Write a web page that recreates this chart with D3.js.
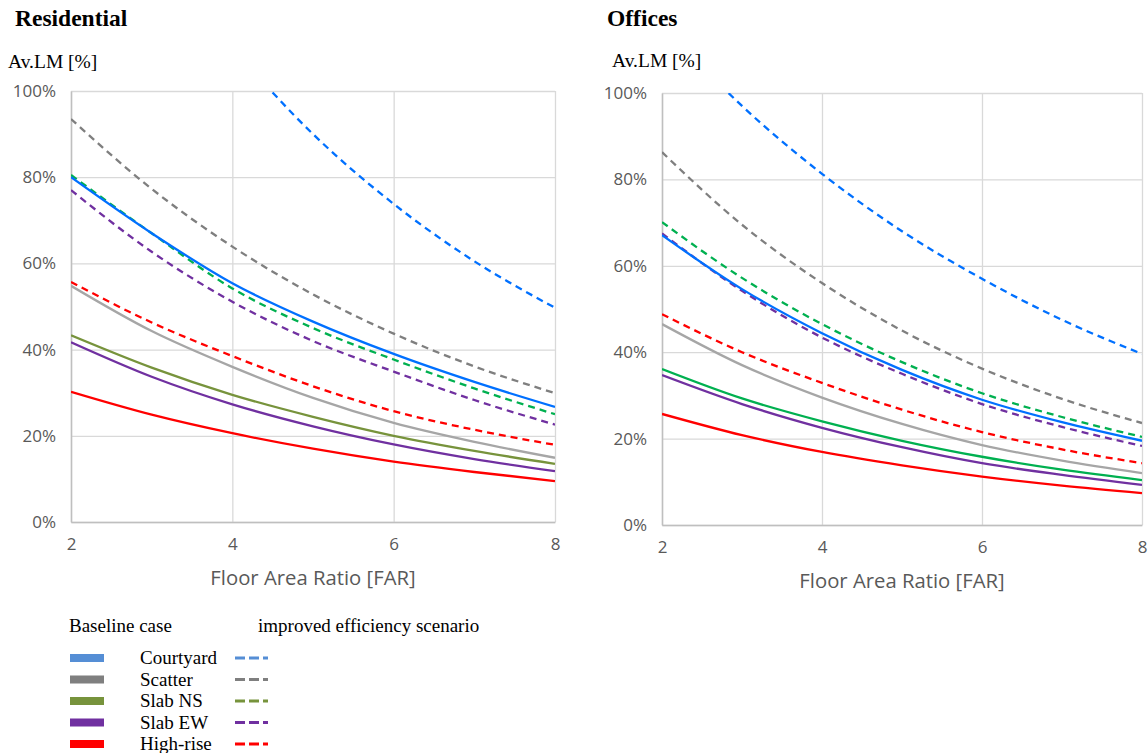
<!DOCTYPE html>
<html>
<head>
<meta charset="utf-8">
<script src="https://cdn.jsdelivr.net/npm/d3@7"></script>
<style>
  body { margin: 0; background: #fff; }
  svg { display: block; }
</style>
</head>
<body>
<svg width="1148" height="753"></svg>
<script>
// FAR sample points
const far = [2, 3, 4, 5, 6, 7, 8];
const yTicks = [0, 20, 40, 60, 80, 100];
const xTicks = [2, 4, 6, 8];

// Residential, Av.LM [%]
const resCourtyard     = [80.0, 67.0, 55.4, 46.5, 39.0, 32.5, 26.7];
const resCourtyardImp  = [null, null, 110, 90.0, 73.8, 60.5, 49.7];
const resScatter       = [54.8, 44.3, 36.0, 28.8, 23.0, 18.6, 14.9];
const resScatterImp    = [93.5, 77.3, 63.9, 52.8, 43.7, 36.1, 29.9];
const resSlabNS        = [43.3, 35.8, 29.5, 24.4, 20.0, 16.5, 13.5];
const resSlabNSImp     = [80.5, 67.0, 54.2, 45.0, 37.7, 31.0, 25.0];
const resSlabEW        = [41.7, 33.7, 27.3, 22.2, 18.0, 14.6, 11.8];
const resSlabEWImp     = [77.0, 62.7, 51.1, 42.0, 34.9, 28.3, 22.6];
const resHighRise      = [30.2, 24.9, 20.6, 17.0, 14.0, 11.6, 9.5];
const resHighRiseImp   = [55.7, 46.3, 38.5, 31.5, 25.7, 21.4, 17.9];

// Offices, Av.LM [%]
const offCourtyard     = [67.1, 54.6, 44.4, 35.9, 29.0, 23.8, 19.5];
const offCourtyardImp  = [116, 97.0, 81.3, 68.0, 57.0, 47.5, 39.6];
const offScatter       = [46.5, 37.0, 29.5, 23.4, 18.5, 14.9, 12.0];
const offScatterImp    = [86.3, 69.5, 56.0, 45.0, 36.2, 29.2, 23.6];
const offSlabNS        = [36.1, 29.3, 24.0, 19.5, 15.8, 12.8, 10.4];
const offSlabNSImp     = [70.1, 57.2, 46.5, 37.7, 30.5, 25.0, 20.4];
const offSlabEW        = [34.7, 28.0, 22.5, 18.0, 14.3, 11.6, 9.3];
const offSlabEWImp     = [67.5, 54.2, 43.4, 35.0, 28.0, 22.7, 18.3];
const offHighRise      = [25.7, 20.8, 16.9, 13.8, 11.2, 9.1, 7.4];
const offHighRiseImp   = [48.8, 40.0, 32.9, 26.7, 21.5, 17.5, 14.3];

// legend
const legendNames  = ["Courtyard", "Scatter", "Slab NS", "Slab EW", "High-rise"];
const legendColors = ["#558ED5", "#7F7F7F", "#77933C", "#7030A0", "#FF0000"];

const svg = d3.select("svg");
const serif = "Liberation Serif, Times New Roman, serif";
const sans = "Open Sans, sans-serif";

function series(vals, color, dashed) {
  return { data: far.map((x, i) => ({ x, y: vals[i] })), color, dashed };
}

const charts = [
  {
    id: "res", title: "Residential", titleX: 15, unitX: 8, unitY: 68,
    left: 71, right: 555, top: 91, bottom: 522,
    series: [
      series(resScatter, "#A6A6A6", false),
      series(resSlabNS, "#77933C", false),
      series(resSlabEW, "#7030A0", false),
      series(resHighRise, "#FF0000", false),
      series(resScatterImp, "#7F7F7F", true),
      series(resSlabEWImp, "#7030A0", true),
      series(resHighRiseImp, "#FF0000", true),
      series(resCourtyardImp, "#0070FF", true),
      series(resSlabNSImp, "#00B050", true),
      series(resCourtyard, "#0070FF", false)
    ]
  },
  {
    id: "off", title: "Offices", titleX: 607, unitX: 612, unitY: 67,
    left: 662, right: 1142, top: 93, bottom: 525,
    series: [
      series(offScatter, "#A6A6A6", false),
      series(offSlabNS, "#00B050", false),
      series(offSlabEW, "#7030A0", false),
      series(offHighRise, "#FF0000", false),
      series(offScatterImp, "#7F7F7F", true),
      series(offHighRiseImp, "#FF0000", true),
      series(offCourtyardImp, "#0070FF", true),
      series(offSlabNSImp, "#00B050", true),
      series(offSlabEWImp, "#7030A0", true),
      series(offCourtyard, "#0070FF", false)
    ]
  }
];

charts.forEach(c => {
  const x = d3.scaleLinear().domain([2, 8]).range([c.left, c.right]);
  const y = d3.scaleLinear().domain([0, 100]).range([c.bottom, c.top]);
  const g = svg.append("g");

  // titles
  g.append("text")
    .attr("x", c.titleX).attr("y", 26)
    .attr("font-family", serif)
    .attr("font-weight", "bold").attr("font-size", 23.5)
    .text(c.title);
  g.append("text")
    .attr("x", c.unitX).attr("y", c.unitY)
    .attr("font-family", serif)
    .attr("font-size", 19.5)
    .text("Av.LM [%]");

  // gridlines
  g.append("g")
    .attr("transform", `translate(0,${c.bottom})`)
    .call(d3.axisBottom(x).tickValues(xTicks).tickSize(-(c.bottom - c.top)).tickFormat(""))
    .call(a => a.select(".domain").remove())
    .call(a => a.selectAll("line").attr("stroke", "#D9D9D9").attr("stroke-width", 1.3));
  g.append("g")
    .attr("transform", `translate(${c.left},0)`)
    .call(d3.axisLeft(y).tickValues(yTicks).tickSize(-(c.right - c.left)).tickFormat(""))
    .call(a => a.select(".domain").remove())
    .call(a => a.selectAll("line").attr("stroke", "#D9D9D9").attr("stroke-width", 1.3));

  // axes
  const xAxis = g.append("g")
    .attr("transform", `translate(0,${c.bottom})`)
    .call(d3.axisBottom(x).tickValues(xTicks).tickSize(0).tickPadding(16).tickFormat(d3.format("d")));
  const yAxis = g.append("g")
    .attr("transform", `translate(${c.left},0)`)
    .call(d3.axisLeft(y).tickValues(yTicks).tickSize(0).tickPadding(15).tickFormat(d => d + "%"));
  [xAxis, yAxis].forEach(a => {
    a.select(".domain").attr("stroke", "#BFBFBF").attr("stroke-width", 1.5);
    a.selectAll("text")
      .attr("fill", "#595959")
      .attr("font-family", sans)
      .attr("font-size", 17);
  });

  g.append("text")
    .attr("x", (c.left + c.right) / 2).attr("y", c.bottom + 63)
    .attr("text-anchor", "middle")
    .attr("fill", "#595959")
    .attr("font-family", sans)
    .attr("font-size", 20.3)
    .text("Floor Area Ratio [FAR]");

  // clip to plot area
  svg.append("clipPath").attr("id", "clip-" + c.id)
    .append("rect")
    .attr("x", c.left).attr("y", c.top)
    .attr("width", c.right - c.left).attr("height", c.bottom - c.top);

  const line = d3.line()
    .defined(d => d.y != null)
    .x(d => x(d.x))
    .y(d => y(d.y))
    .curve(d3.curveMonotoneX);

  g.append("g").attr("clip-path", `url(#clip-${c.id})`)
    .selectAll("path")
    .data(c.series)
    .join("path")
    .attr("fill", "none")
    .attr("stroke", d => d.color)
    .attr("stroke-width", 2.3)
    .attr("stroke-dasharray", d => d.dashed ? "7,5" : null)
    .attr("d", d => line(d.data));
});

// legend
const lg = svg.append("g")
  .attr("font-family", serif)
  .attr("font-size", 19);
lg.append("text").attr("x", 69).attr("y", 632).text("Baseline case");
lg.append("text").attr("x", 258).attr("y", 632).text("improved efficiency scenario");

const rowY = d3.scalePoint().domain(legendNames).range([658, 744]);
const rows = lg.selectAll("g.row")
  .data(legendNames)
  .join("g")
  .attr("class", "row")
  .attr("transform", d => `translate(0,${rowY(d)})`);
rows.append("rect")
  .attr("x", 70).attr("y", -4).attr("width", 34).attr("height", 8)
  .attr("fill", (d, i) => legendColors[i]);
rows.append("text")
  .attr("x", 140).attr("y", 6)
  .text(d => d);
rows.append("line")
  .attr("x1", 235).attr("x2", 268)
  .attr("stroke", (d, i) => legendColors[i])
  .attr("stroke-width", 3)
  .attr("stroke-dasharray", "10,4");
</script>
</body>
</html>
